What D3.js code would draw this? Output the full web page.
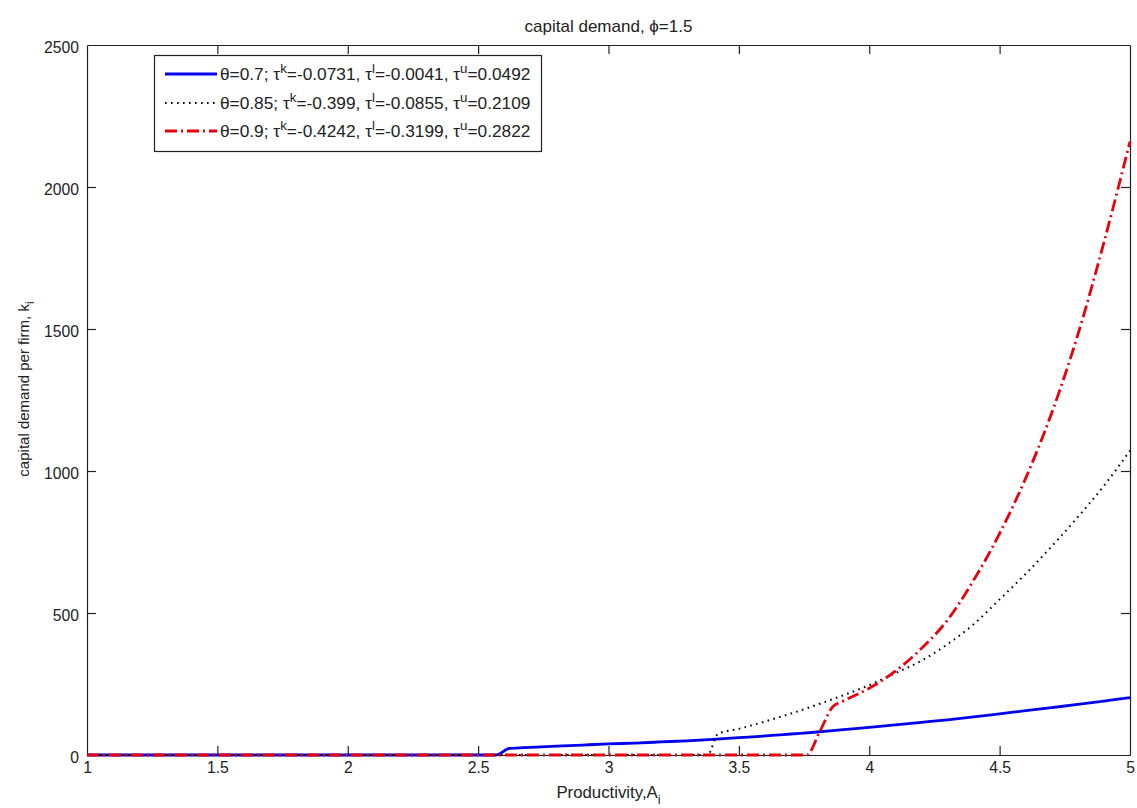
<!DOCTYPE html>
<html><head><meta charset="utf-8">
<script src="https://cdn.jsdelivr.net/npm/d3@7"></script>
<style>
body{margin:0;background:#fff;}
svg{display:block;font-family:"Liberation Sans",Arial,sans-serif;}
</style></head>
<body><svg id="c" width="1137" height="808"></svg>
<script>
// Productivity grid and capital demand per firm
const blueA = [1.0, 2.57, 2.62, 2.7, 2.8, 2.9, 3.0, 3.1, 3.2, 3.3, 3.4, 3.5, 3.6, 3.7, 3.8, 3.9, 4.0, 4.1, 4.2, 4.3, 4.4, 4.5, 4.6, 4.7, 4.8, 4.9, 5.0];
const blueK = [0, 0, 23, 27, 31, 35, 39, 42, 46, 50, 55, 61, 67, 74, 81, 89, 97, 106, 115, 124, 134, 145, 156, 167, 178, 190, 202];
const dotA = [1.0, 3.38, 3.42, 3.5, 3.6, 3.7, 3.8, 3.9, 4.0, 4.1, 4.2, 4.3, 4.4, 4.5, 4.6, 4.7, 4.8, 4.9, 5.0];
const dotK = [0, 0, 75, 92, 118, 146, 177, 210, 246, 288, 332, 390, 460, 548, 638, 735, 838, 948, 1072];
const redA = [1.0, 3.76, 3.81, 3.86, 3.9, 4.0, 4.1, 4.2, 4.3, 4.4, 4.5, 4.6, 4.7, 4.8, 4.9, 5.0];
const redK = [0, 0, 82, 170, 190, 235, 295, 375, 475, 615, 780, 975, 1205, 1480, 1805, 2160];
const xTicks = [1, 1.5, 2, 2.5, 3, 3.5, 4, 4.5, 5];
const xTickLabels = ["1", "1.5", "2", "2.5", "3", "3.5", "4", "4.5", "5"];
const yTicks = [0, 500, 1000, 1500, 2000, 2500];
const yTickLabels = ["0", "500", "1000", "1500", "2000", "2500"];
const seriesNames = ["θ=0.7", "θ=0.85", "θ=0.9"];
const tauK = ["-0.0731", "-0.399", "-0.4242"];
const tauL = ["-0.0041", "-0.0855", "-0.3199"];
const tauU = ["0.0492", "0.2109", "0.2822"];

const svg = d3.select("#c");
const L = 87, R = 1130, T = 45, B = 755;
const x = d3.scaleLinear().domain([1, 5]).range([L, R]);
const y = d3.scaleLinear().domain([0, 2500]).range([B, T]);

const fsTick = 15.7, fsLab = 16.8, fsTitle = 17, fsLeg = 17.3, fsY = 15;
const ink = "#222";
// axes
const gx = svg.append("g").attr("transform", `translate(0,${B})`)
  .call(d3.axisBottom(x).tickValues(xTicks).tickFormat((d, i) => xTickLabels[i]).tickSizeInner(-9).tickSizeOuter(0).tickPadding(7));
const gxt = svg.append("g").attr("transform", `translate(0,${T})`)
  .call(d3.axisTop(x).tickValues(xTicks).tickFormat("").tickSizeInner(-9).tickSizeOuter(0));
const gy = svg.append("g").attr("transform", `translate(${L},0)`)
  .call(d3.axisLeft(y).tickValues(yTicks).tickFormat((d, i) => yTickLabels[i]).tickSizeInner(-9).tickSizeOuter(0).tickPadding(8));
const gyr = svg.append("g").attr("transform", `translate(${R},0)`)
  .call(d3.axisRight(y).tickValues(yTicks).tickFormat("").tickSizeInner(-9).tickSizeOuter(0));
[gx, gxt, gy, gyr].forEach(g => {
  g.select(".domain").attr("stroke", ink).attr("stroke-width", 1.2);
  g.selectAll(".tick line").attr("stroke", ink).attr("stroke-width", 1.2);
  g.selectAll("text").attr("font-size", fsTick).attr("fill", ink).attr("font-family", "Liberation Sans, Arial, sans-serif");
});
gy.selectAll(".tick text").attr("dy", "0.45em");
gx.selectAll(".tick").filter(d => d === 1 || d === 5).select("line").attr("display", "none");
gxt.selectAll(".tick").filter(d => d === 1 || d === 5).select("line").attr("display", "none");
gy.selectAll(".tick").filter(d => d === 0 || d === 2500).select("line").attr("display", "none");
gyr.selectAll(".tick").filter(d => d === 0 || d === 2500).select("line").attr("display", "none");

// lines
const line = d3.line().x(d => x(d[0])).y(d => y(d[1])).curve(d3.curveMonotoneX);
const mk = (A, K) => A.map((a, i) => [a, K[i]]);
const styles = [
  {data: mk(blueA, blueK), color: "#0000ee", w: 2.8, dash: null},
  {data: mk(dotA, dotK), color: "#000", w: 2, dash: "1.6,4.4"},
  {data: mk(redA, redK), color: "#e8000b", w: 2.8, dash: "12,4,2,4"}
];
styles.forEach(s => {
  svg.append("path").attr("d", line(s.data)).attr("fill", "none")
    .attr("stroke", s.color).attr("stroke-width", s.w)
    .attr("stroke-dasharray", s.dash);
});

// title
svg.append("text").attr("x", (L + R) / 2).attr("y", 32).attr("text-anchor", "middle")
  .attr("font-size", fsTitle).attr("fill", ink).text("capital demand, ϕ=1.5");

// x label
const xl = svg.append("text").attr("x", (L + R) / 2).attr("y", 798).attr("text-anchor", "middle")
  .attr("font-size", fsLab).attr("fill", ink);
xl.append("tspan").text("Productivity,A");
xl.append("tspan").attr("dy", 6).attr("font-size", fsLab - 4).text("i");

// y label
const yl = svg.append("text").attr("transform", `translate(29,389) rotate(-90)`)
  .attr("text-anchor", "middle").attr("font-size", fsY).attr("fill", ink);
yl.append("tspan").text("capital demand per firm, k");
yl.append("tspan").attr("dy", 5).attr("font-size", fsY - 3).text("i");

// legend
const lg = svg.append("g");
lg.append("rect").attr("x", 154.5).attr("y", 55.5).attr("width", 387).attr("height", 96)
  .attr("fill", "#fff").attr("stroke", ink).attr("stroke-width", 1.2);
const rowsY = [74, 103, 131];
styles.forEach((s, i) => {
  lg.append("line").attr("x1", 165).attr("x2", 217).attr("y1", rowsY[i]).attr("y2", rowsY[i])
    .attr("stroke", s.color).attr("stroke-width", s.w).attr("stroke-dasharray", s.dash);
  const t = lg.append("text").attr("x", 220).attr("y", rowsY[i] + 6).attr("font-size", fsLeg).attr("fill", ink);
  const sup = (s2, val, last) => {
    t.append("tspan").text("τ");
    t.append("tspan").attr("dy", -7).attr("font-size", fsLeg - 4).text(s2);
    t.append("tspan").attr("dy", 7).text("=" + val + (last ? "" : ", "));
  };
  t.append("tspan").text(seriesNames[i] + "; ");
  sup("k", tauK[i], false);
  sup("l", tauL[i], false);
  sup("u", tauU[i], true);
});
</script></body></html>
